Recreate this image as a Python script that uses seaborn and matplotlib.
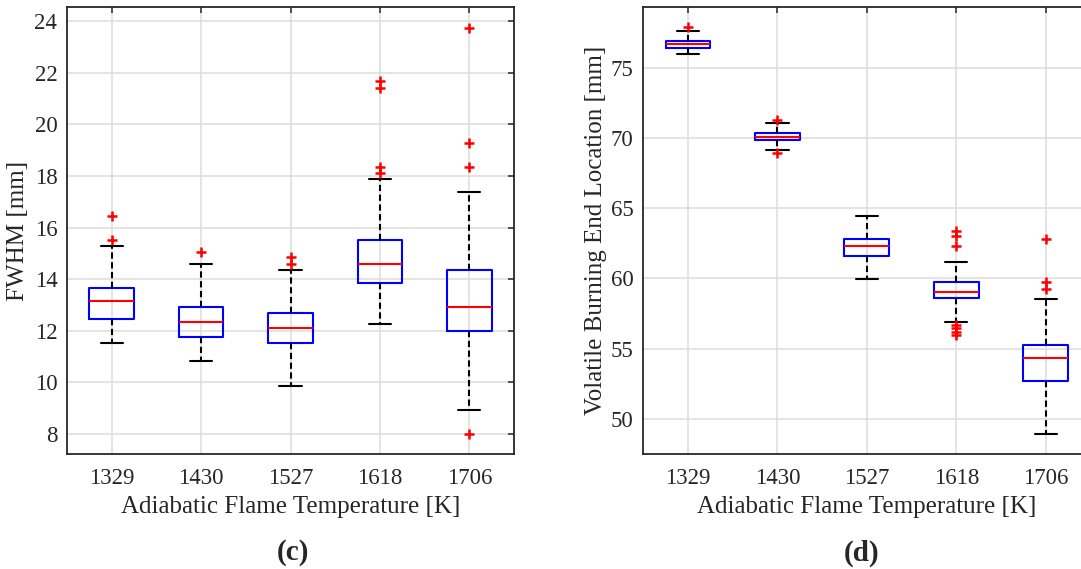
import numpy as np
import pandas as pd
import matplotlib
matplotlib.use("Agg")
import matplotlib.pyplot as plt
import seaborn as sns

# ---------------- data ----------------
temps = ["1329", "1430", "1527", "1618", "1706"]

# panel (c): FWHM [mm]
fwhm_whislo = [11.53, 10.83, 9.87, 12.25, 8.93]
fwhm_q1 = [12.46, 11.75, 11.51, 13.86, 12.00]
fwhm_med = [13.17, 12.35, 12.11, 14.59, 12.93]
fwhm_q3 = [13.65, 12.93, 12.70, 15.52, 14.34]
fwhm_whishi = [15.29, 14.59, 14.34, 17.87, 17.39]
fwhm_out = [[16.46, 15.53], [15.05], [14.85, 14.60],
            [21.67, 21.40, 18.36, 18.10], [23.75, 19.28, 18.35, 8.00]]

# panel (d): Volatile Burning End Location [mm]
vbe_whislo = [75.98, 69.15, 59.98, 56.90, 48.91]
vbe_q1 = [76.43, 69.84, 61.59, 58.58, 52.72]
vbe_med = [76.69, 70.08, 62.33, 59.03, 54.32]
vbe_q3 = [76.91, 70.32, 62.80, 59.74, 55.26]
vbe_whishi = [77.62, 71.03, 64.44, 61.17, 58.56]
vbe_out = [[77.90], [71.31, 68.92], [],
           [63.37, 63.04, 62.33, 56.69, 56.45, 56.20, 55.97],
           [62.80, 59.77, 59.27]]

xlabel = "Adiabatic Flame Temperature [K]"
ylabel_c = "FWHM [mm]"
ylabel_d = "Volatile Burning End Location [mm]"
yticks_c = [8, 10, 12, 14, 16, 18, 20, 22, 24]
yticks_d = [50, 55, 60, 65, 70, 75]

# ---------------- style ----------------
sns.set_style("white")
plt.rcParams["font.family"] = ["Liberation Serif", "DejaVu Serif"]
plt.rcParams["text.color"] = "#262626"
plt.rcParams["axes.labelcolor"] = "#262626"
plt.rcParams["xtick.color"] = "#262626"
plt.rcParams["ytick.color"] = "#262626"

FS_TICK = 16.5
FS_LAB = 18


def summary_frame(lo, q1, med, q3, hi):
    rows = []
    for t, a, b, c, d, e in zip(temps, lo, q1, med, q3, hi):
        for v in (a, b, c, d, e):
            rows.append((t, v))
    return pd.DataFrame(rows, columns=["temp", "value"])


def outlier_frame(out):
    rows = [(t, v) for t, vals in zip(temps, out) for v in vals]
    return pd.DataFrame(rows, columns=["temp", "value"])


def draw(ax, df, dfo, ylabel, yticks, ylim):
    sns.boxplot(data=df, x="temp", y="value", order=temps, ax=ax,
                whis=np.inf, fill=False, width=0.5, showfliers=False,
                color="blue", linewidth=1.5,
                boxprops=dict(color="blue"),
                medianprops=dict(color="red", linewidth=1.5),
                whiskerprops=dict(color="black", linestyle=(0, (3.0, 1.7))),
                capprops=dict(color="black"))
    sns.stripplot(data=dfo, x="temp", y="value", order=temps, ax=ax,
                  jitter=False, marker="+", color="red", size=6.5,
                  linewidth=1.8, zorder=5)
    ax.set_xlim(-0.5, 4.5)
    ax.set_ylim(*ylim)
    ax.set_yticks(yticks)
    ax.set_axisbelow(True)
    ax.grid(True, color="#dcdcdc", linewidth=1.1)
    ax.set_xlabel(xlabel, fontsize=FS_LAB, labelpad=5)
    ax.set_ylabel(ylabel, fontsize=FS_LAB)
    ax.tick_params(direction="in", top=True, right=True, length=4,
                   width=1.1, labelsize=FS_TICK)
    ax.tick_params(axis="x", pad=10)
    ax.tick_params(axis="y", pad=7)
    for s in ax.spines.values():
        s.set_visible(True)
        s.set_color("#262626")
        s.set_linewidth(1.3)


fig = plt.figure(figsize=(10.81, 5.69), dpi=100)
ax1 = fig.add_axes([0.0620, 0.2021, 0.4135, 0.7856])
ax2 = fig.add_axes([0.5951, 0.2021, 0.4136, 0.7856])

draw(ax1, summary_frame(fwhm_whislo, fwhm_q1, fwhm_med, fwhm_q3, fwhm_whishi),
     outlier_frame(fwhm_out), ylabel_c, yticks_c, (7.22, 24.55))
draw(ax2, summary_frame(vbe_whislo, vbe_q1, vbe_med, vbe_q3, vbe_whishi),
     outlier_frame(vbe_out), ylabel_d, yticks_d, (47.51, 79.32))

ax1.yaxis.set_label_coords(-0.084, 0.5)
ax2.yaxis.set_label_coords(-0.082, 0.5)

fig.text(293 / 1081, 1 - 553 / 569, "(c)", fontsize=21, fontweight="bold",
         ha="center", va="center")
fig.text(862 / 1081, 1 - 553 / 569, "(d)", fontsize=21, fontweight="bold",
         ha="center", va="center")

fig.savefig("out.png", dpi=100)
